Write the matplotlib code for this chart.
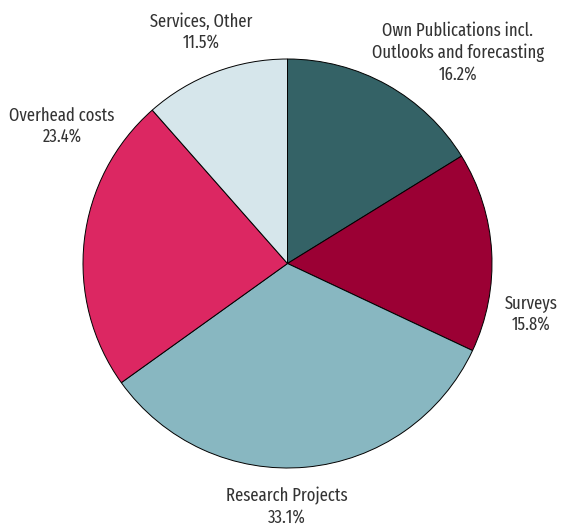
import matplotlib.pyplot as plt

# Datos del gráfico (en sentido horario desde las 12)
categorias = ['Own Publications incl.\nOutlooks and forecasting', 'Surveys',
              'Research Projects', 'Overhead costs', 'Services, Other']
porcentajes = [16.2, 15.8, 33.1, 23.4, 11.5]
colores = ['#346266', '#9b0034', '#88b7c1', '#dc2762', '#d6e6eb']

# posiciones de las etiquetas en pixeles de la imagen (x, y desde arriba)
pos_etiquetas = [(458, 53), (531, 314), (287, 507), (62, 126), (201, 32)]

plt.rcParams['font.family'] = ['Fira Sans Extra Condensed', 'Fira Sans Condensed', 'DejaVu Sans']

fig = plt.figure(figsize=(5.61, 5.28), dpi=100)
ax = fig.add_axes([83 / 561, 60 / 528, 409 / 561, 409 / 528])

ax.pie(porcentajes, colors=colores, startangle=90, counterclock=False, radius=1,
       wedgeprops={'edgecolor': 'black', 'linewidth': 0.7})

for cat, pct, (x, y) in zip(categorias, porcentajes, pos_etiquetas):
    fig.text(x / 561, 1 - y / 528, f'{cat}\n{pct:.1f}%', ha='center', va='center',
             fontsize=13, color='#333333', linespacing=1.25)

ax.set_xlim(-1, 1)
ax.set_ylim(-1, 1)
ax.set_aspect('equal')
ax.axis('off')

fig.savefig('out.png', dpi=100)
